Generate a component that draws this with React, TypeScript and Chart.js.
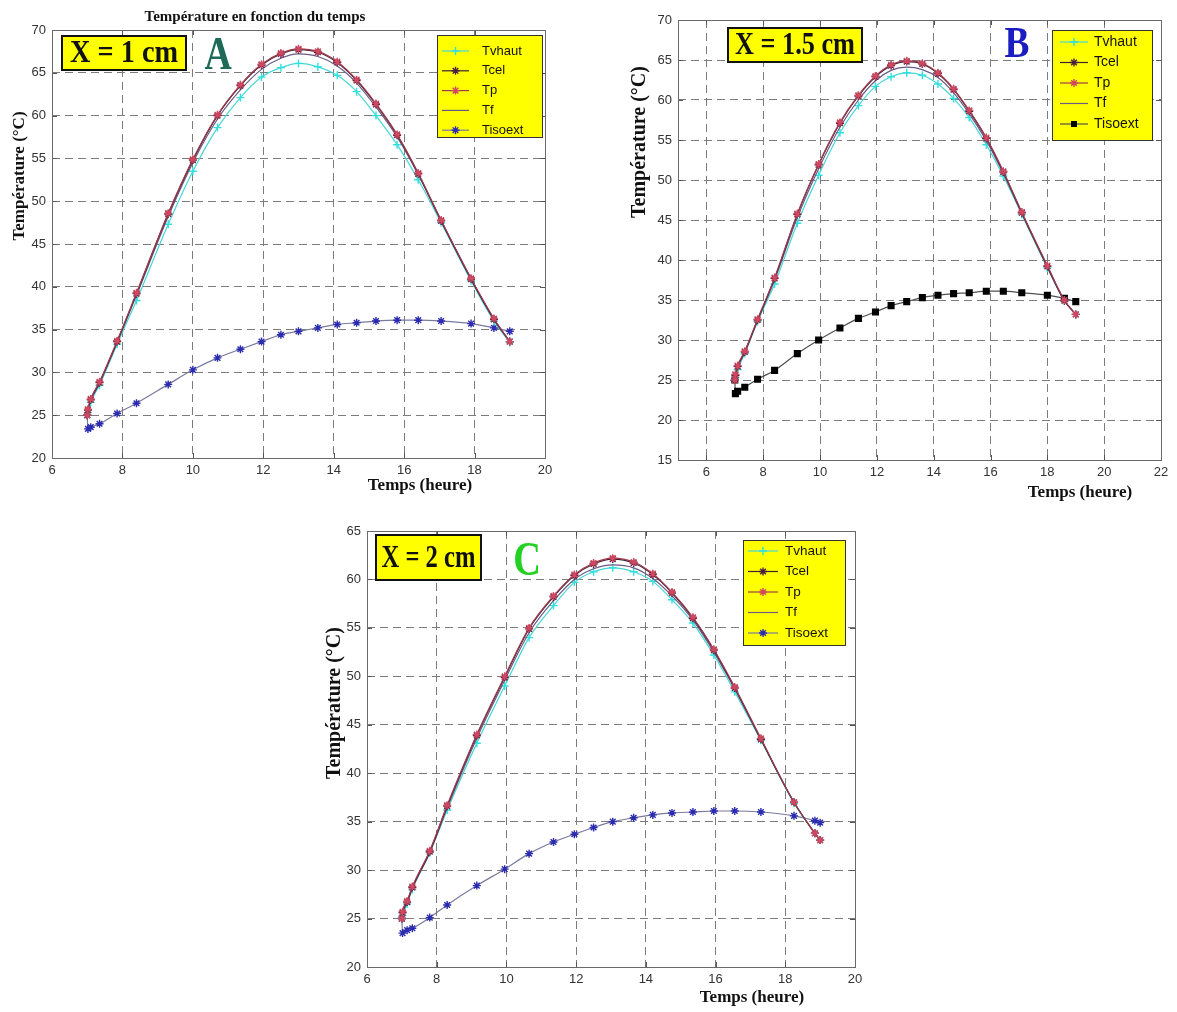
import React, { useEffect, useRef } from "react";
import { Chart, registerables } from "chart.js";
Chart.register(...registerables);

// ---------- DATA ----------
const seriesNames = ["Tvhaut", "Tcel", "Tp", "Tf", "Tisoext"];

// Panel A : X = 1 cm
const hoursA = [7.0, 7.02, 7.1, 7.35, 7.85, 8.4, 9.3, 10.0, 10.7, 11.35, 11.95, 12.5, 13.0, 13.55, 14.1, 14.65, 15.2, 15.8, 16.4, 17.05, 17.9, 18.55, 19.0];
const tvhautA = [25.0, 25.3, 26.5, 28.5, 33.3, 38.4, 47.3, 53.5, 58.6, 62.1, 64.5, 65.6, 66.1, 65.7, 64.7, 62.8, 60.0, 56.6, 52.5, 47.5, 40.7, 36.0, 33.5];
const tcelA = [25.0, 25.6, 26.8, 28.8, 33.6, 39.2, 48.5, 54.8, 60.0, 63.5, 65.9, 67.2, 67.7, 67.4, 66.2, 64.1, 61.3, 57.7, 53.2, 47.7, 40.9, 36.2, 33.6];
const tpA = [25.0, 25.7, 26.9, 28.9, 33.7, 39.3, 48.6, 54.9, 60.1, 63.6, 66.0, 67.3, 67.8, 67.5, 66.3, 64.2, 61.4, 57.8, 53.3, 47.8, 41.0, 36.3, 33.6];
const tfA = [25.0, 25.5, 26.7, 28.7, 33.5, 39.0, 48.2, 54.5, 59.6, 63.0, 65.4, 66.7, 67.2, 66.9, 65.8, 63.8, 61.0, 57.5, 53.1, 47.7, 40.9, 36.2, 33.6];
const tisoA = [25.0, 23.4, 23.6, 24.0, 25.2, 26.4, 28.6, 30.3, 31.7, 32.7, 33.6, 34.4, 34.8, 35.2, 35.6, 35.8, 36.0, 36.1, 36.1, 36.0, 35.7, 35.2, 34.8];

// Panel B : X = 1.5 cm
const hoursB = [7.0, 7.02, 7.1, 7.35, 7.8, 8.4, 9.2, 9.95, 10.7, 11.35, 11.95, 12.5, 13.05, 13.6, 14.15, 14.7, 15.25, 15.85, 16.45, 17.1, 18.0, 18.6, 19.0];
const tvhautB = [25.0, 25.3, 26.3, 28.3, 32.3, 37.0, 44.6, 50.6, 55.9, 59.3, 61.7, 62.9, 63.4, 63.1, 62.0, 60.2, 57.8, 54.4, 50.5, 45.7, 39.0, 34.9, 33.2];
const tcelB = [25.0, 25.6, 26.7, 28.5, 32.5, 37.7, 45.7, 51.9, 57.1, 60.5, 62.9, 64.3, 64.8, 64.5, 63.3, 61.3, 58.6, 55.2, 51.0, 45.9, 39.2, 34.9, 33.2];
const tpB = [25.0, 25.7, 26.8, 28.6, 32.6, 37.8, 45.8, 52.0, 57.2, 60.6, 63.0, 64.4, 64.9, 64.6, 63.4, 61.4, 58.7, 55.3, 51.1, 46.0, 39.3, 35.0, 33.2];
const tfB = [25.0, 25.5, 26.6, 28.4, 32.4, 37.5, 45.3, 51.4, 56.6, 60.0, 62.4, 63.7, 64.1, 63.8, 62.8, 60.9, 58.3, 54.9, 50.8, 45.8, 39.1, 34.9, 33.2];
const tisoB = [25.0, 23.3, 23.6, 24.1, 25.1, 26.2, 28.3, 30.0, 31.5, 32.7, 33.5, 34.3, 34.8, 35.3, 35.6, 35.8, 35.9, 36.1, 36.1, 35.9, 35.6, 35.2, 34.8];

// Panel C : X = 2 cm
const hoursC = [7.0, 7.02, 7.15, 7.3, 7.8, 8.3, 9.15, 9.95, 10.65, 11.35, 11.95, 12.5, 13.05, 13.65, 14.2, 14.75, 15.35, 15.95, 16.55, 17.3, 18.25, 18.85, 19.0];
const tvhautC = [25.0, 25.3, 26.5, 28.0, 31.8, 36.2, 43.1, 49.0, 54.0, 57.3, 59.7, 60.8, 61.2, 60.8, 59.8, 57.9, 55.5, 52.2, 48.4, 43.4, 36.9, 33.8, 33.1];
const tcelC = [25.0, 25.6, 26.7, 28.2, 31.9, 36.6, 43.9, 49.9, 54.9, 58.2, 60.4, 61.6, 62.1, 61.7, 60.5, 58.6, 56.0, 52.7, 48.8, 43.5, 37.0, 33.8, 33.1];
const tpC = [25.0, 25.7, 26.8, 28.3, 32.0, 36.7, 44.0, 50.0, 55.0, 58.3, 60.5, 61.7, 62.2, 61.8, 60.6, 58.7, 56.1, 52.8, 48.9, 43.6, 37.0, 33.8, 33.1];
const tfC = [25.0, 25.5, 26.6, 28.1, 31.8, 36.4, 43.6, 49.6, 54.5, 57.8, 60.0, 61.1, 61.5, 61.2, 60.1, 58.3, 55.8, 52.5, 48.7, 43.5, 37.0, 33.8, 33.1];
const tisoC = [25.0, 23.5, 23.8, 24.0, 25.1, 26.4, 28.4, 30.1, 31.7, 32.9, 33.7, 34.4, 35.0, 35.4, 35.7, 35.9, 36.0, 36.1, 36.1, 36.0, 35.6, 35.1, 34.9];

// Tick labels
const xTicksA = [6, 8, 10, 12, 14, 16, 18, 20];
const yTicksA = [20, 25, 30, 35, 40, 45, 50, 55, 60, 65, 70];
const xTicksB = [6, 8, 10, 12, 14, 16, 18, 20, 22];
const yTicksB = [15, 20, 25, 30, 35, 40, 45, 50, 55, 60, 65, 70];
const xTicksC = [6, 8, 10, 12, 14, 16, 18, 20];
const yTicksC = [20, 25, 30, 35, 40, 45, 50, 55, 60, 65];

// Texts
const mainTitle = "Température en fonction du temps";
const xAxisTitle = "Temps (heure)";
const yAxisTitle = "Température (°C)";
const tagA = "X = 1 cm";
const tagB = "X = 1.5 cm";
const tagC = "X = 2 cm";

// ---------- STYLES ----------
const lineColors = ["#45d6d6", "#3b2236", "#a33a4c", "#6b5a86", "#7a7a9e"];
const markerColors = ["#2fe0e0", "#4b1f3f", "#d04860", "#6b5a86", "#2b2bb0"];
const markerStyles: (string | false)[] = ["cross", "star", "star", false, "star"];
const drawOrder = [3, 1, 0, 2, 4];

type Cfg = any;

const SERIF = '"Liberation Serif", "Times New Roman", serif';
const SANS = '"Liberation Sans", Arial, sans-serif';

const panels: Cfg[] = [
  {
    key: "A", left: 0, top: 0, width: 560, height: 500,
    pad: { left: 0, top: 30, right: 15, bottom: 0 }, yW: 52, xH: 42,
    xMin: 6, xMax: 20, yMin: 20, yMax: 70, xTicks: xTicksA, yTicks: yTicksA,
    hours: hoursA, series: [tvhautA, tcelA, tpA, tfA, tisoA],
    iso: { line: "#7a7a9e", marker: "#2b2bb0", style: "star" },
    title: { text: mainTitle, x: 255, y: 17, size: 15 },
    xTitle: { x: 420, y: 486, size: 17 },
    yTitle: { x: 20, y: 176, size: 17 },
    tag: { text: tagA, x: 62, y: 36, w: 124, h: 34, size: 31, fit: 108 },
    letter: { text: "A", x: 218, y: 69, size: 46, color: "#1d6a58", sx: 0.82 },
    legend: { x: 437, y: 35, w: 105, h: 102, row0: 16, gap: 19.8, l0: 5, l1: 32, tx: 45, size: 13 },
  },
  {
    key: "B", left: 600, top: 0, width: 577, height: 515,
    pad: { left: 0, top: 20, right: 16, bottom: 0 }, yW: 78, xH: 55,
    xMin: 5, xMax: 22, yMin: 15, yMax: 70, xTicks: xTicksB, yTicks: yTicksB,
    hours: hoursB, series: [tvhautB, tcelB, tpB, tfB, tisoB],
    iso: { line: "#505050", marker: "#000000", style: "rect" },
    xTitle: { x: 480, y: 493, size: 17 },
    yTitle: { x: 40, y: 142, size: 20 },
    tag: { text: tagB, x: 128, y: 28, w: 134, h: 34, size: 31, fit: 120 },
    letter: { text: "B", x: 417, y: 57, size: 44, color: "#1a1ec0", sx: 0.85 },
    legend: { x: 452, y: 30, w: 100, h: 110, row0: 12, gap: 20.5, l0: 8, l1: 36, tx: 42, size: 14 },
  },
  {
    key: "C", left: 300, top: 515, width: 570, height: 497,
    pad: { left: 0, top: 16, right: 15, bottom: 0 }, yW: 67, xH: 45,
    xMin: 6, xMax: 20, yMin: 20, yMax: 65, xTicks: xTicksC, yTicks: yTicksC,
    hours: hoursC, series: [tvhautC, tcelC, tpC, tfC, tisoC],
    iso: { line: "#7a7a9e", marker: "#2b2bb0", style: "star" },
    xTitle: { x: 452, y: 483, size: 17 },
    yTitle: { x: 35, y: 188, size: 20 },
    tag: { text: tagC, x: 76, y: 20, w: 105, h: 45, size: 31, fit: 94 },
    letter: { text: "C", x: 227, y: 60, size: 48, color: "#25d025", sx: 0.8 },
    legend: { x: 443, y: 25, w: 102, h: 105, row0: 11, gap: 20.5, l0: 5, l1: 35, tx: 42, size: 13.5 },
  },
];

function drawMarker(ctx: CanvasRenderingContext2D, style: string, x: number, y: number, r: number, color: string) {
  ctx.save();
  ctx.strokeStyle = color;
  ctx.fillStyle = color;
  ctx.lineWidth = 1.4;
  ctx.beginPath();
  if (style === "cross" || style === "star") {
    ctx.moveTo(x - r, y); ctx.lineTo(x + r, y);
    ctx.moveTo(x, y - r); ctx.lineTo(x, y + r);
  }
  if (style === "star") {
    const d = r * 0.707;
    ctx.moveTo(x - d, y - d); ctx.lineTo(x + d, y + d);
    ctx.moveTo(x - d, y + d); ctx.lineTo(x + d, y - d);
  }
  ctx.stroke();
  if (style === "rect") ctx.fillRect(x - 3, y - 3, 6, 6);
  ctx.restore();
}

function makeDecor(cfg: Cfg, lc: string[], mc: string[], ms: (string | false)[]) {
  return {
    id: "decor" + cfg.key,
    afterDraw(chart: any) {
      const ctx: CanvasRenderingContext2D = chart.ctx;
      const ca = chart.chartArea;
      const xs = chart.scales.x;
      const ys = chart.scales.y;
      ctx.save();
      // inward ticks
      ctx.strokeStyle = "#555";
      ctx.lineWidth = 1;
      ctx.beginPath();
      cfg.xTicks.forEach((v: number) => {
        const px = Math.round(xs.getPixelForValue(v)) + 0.5;
        ctx.moveTo(px, ca.bottom); ctx.lineTo(px, ca.bottom - 5);
        ctx.moveTo(px, ca.top); ctx.lineTo(px, ca.top + 5);
      });
      cfg.yTicks.forEach((v: number) => {
        const py = Math.round(ys.getPixelForValue(v)) + 0.5;
        ctx.moveTo(ca.left, py); ctx.lineTo(ca.left + 5, py);
        ctx.moveTo(ca.right, py); ctx.lineTo(ca.right - 5, py);
      });
      ctx.stroke();
      // box
      ctx.strokeStyle = "#6a6a6a";
      ctx.strokeRect(Math.round(ca.left) + 0.5, Math.round(ca.top) + 0.5, Math.round(ca.right - ca.left), Math.round(ca.bottom - ca.top));

      // tag box
      const t = cfg.tag;
      ctx.fillStyle = "#ffff00";
      ctx.fillRect(t.x, t.y, t.w, t.h);
      ctx.strokeStyle = "#111";
      ctx.lineWidth = 2;
      ctx.strokeRect(t.x, t.y, t.w, t.h);
      ctx.font = `bold ${t.size}px ${SERIF}`;
      const tw = ctx.measureText(t.text).width;
      const sx = Math.min(1, t.fit / tw);
      ctx.save();
      ctx.translate(t.x + t.w / 2, t.y + t.h / 2 + 1);
      ctx.scale(sx, 1);
      ctx.fillStyle = "#111";
      ctx.textAlign = "center";
      ctx.textBaseline = "middle";
      ctx.fillText(t.text, 0, 0);
      ctx.restore();

      // letter
      const L = cfg.letter;
      ctx.save();
      ctx.font = `bold ${L.size}px ${SERIF}`;
      ctx.translate(L.x, L.y);
      ctx.scale(L.sx, 1);
      ctx.fillStyle = L.color;
      ctx.textAlign = "center";
      ctx.textBaseline = "alphabetic";
      ctx.fillText(L.text, 0, 0);
      ctx.restore();

      // legend
      const g = cfg.legend;
      ctx.fillStyle = "#ffff00";
      ctx.fillRect(g.x, g.y, g.w, g.h);
      ctx.strokeStyle = "#333";
      ctx.lineWidth = 1;
      ctx.strokeRect(g.x + 0.5, g.y + 0.5, g.w, g.h);
      ctx.font = `${g.size}px ${SANS}`;
      ctx.textAlign = "left";
      ctx.textBaseline = "middle";
      seriesNames.forEach((name, i) => {
        const y = g.y + g.row0 + i * g.gap;
        ctx.strokeStyle = lc[i];
        ctx.lineWidth = 1.2;
        ctx.beginPath();
        ctx.moveTo(g.x + g.l0, y);
        ctx.lineTo(g.x + g.l1, y);
        ctx.stroke();
        if (ms[i]) drawMarker(ctx, ms[i] as string, g.x + (g.l0 + g.l1) / 2, y, 4, mc[i]);
        ctx.fillStyle = "#111";
        ctx.fillText(name, g.x + g.tx, y);
      });

      // titles
      ctx.fillStyle = "#111";
      ctx.textAlign = "center";
      ctx.textBaseline = "middle";
      if (cfg.title) {
        ctx.font = `bold ${cfg.title.size}px ${SERIF}`;
        ctx.fillText(cfg.title.text, cfg.title.x, cfg.title.y);
      }
      ctx.font = `bold ${cfg.xTitle.size}px ${SERIF}`;
      ctx.fillText(xAxisTitle, cfg.xTitle.x, cfg.xTitle.y);
      ctx.save();
      ctx.translate(cfg.yTitle.x, cfg.yTitle.y);
      ctx.rotate(-Math.PI / 2);
      ctx.font = `bold ${cfg.yTitle.size}px ${SERIF}`;
      ctx.fillText(yAxisTitle, 0, 0);
      ctx.restore();
      ctx.restore();
    },
  };
}

function Panel({ cfg }: { cfg: Cfg }) {
  const ref = useRef<HTMLCanvasElement>(null);
  useEffect(() => {
    const lc = lineColors.slice();
    const mc = markerColors.slice();
    const ms = markerStyles.slice();
    lc[4] = cfg.iso.line;
    mc[4] = cfg.iso.marker;
    ms[4] = cfg.iso.style;
    const tickFont = { family: SANS, size: 13 };
    const chart = new Chart(ref.current as HTMLCanvasElement, {
      type: "scatter",
      data: {
        datasets: cfg.series.map((vals: number[], i: number) => ({
          label: seriesNames[i],
          data: cfg.hours.map((h: number, k: number) => ({ x: h, y: vals[k] })),
          showLine: true,
          borderColor: lc[i],
          backgroundColor: mc[i],
          borderWidth: 1.2,
          pointStyle: ms[i] || "circle",
          pointRadius: ms[i] ? 4 : 0,
          pointBorderColor: mc[i],
          pointBackgroundColor: mc[i],
          pointBorderWidth: 1.4,
          cubicInterpolationMode: "monotone",
          order: drawOrder[i],
        })),
      },
      options: {
        animation: false,
        responsive: false,
        events: [],
        layout: { padding: cfg.pad },
        plugins: { legend: { display: false }, tooltip: { enabled: false }, title: { display: false } },
        scales: {
          x: {
            type: "linear",
            min: cfg.xMin,
            max: cfg.xMax,
            afterBuildTicks: (s: any) => { s.ticks = cfg.xTicks.map((v: number) => ({ value: v })); },
            afterFit: (s: any) => { s.height = cfg.xH; },
            grid: { color: "#7c7c7c", lineWidth: 1, drawTicks: false },
            border: { display: false, dash: [8, 5] },
            ticks: { font: tickFont, color: "#333", padding: 5, maxRotation: 0, autoSkip: false },
          },
          y: {
            type: "linear",
            min: cfg.yMin,
            max: cfg.yMax,
            afterBuildTicks: (s: any) => { s.ticks = cfg.yTicks.map((v: number) => ({ value: v })); },
            afterFit: (s: any) => { s.width = cfg.yW; },
            grid: { color: "#7c7c7c", lineWidth: 1, drawTicks: false },
            border: { display: false, dash: [8, 5] },
            ticks: { font: tickFont, color: "#333", padding: 6, autoSkip: false },
          },
        },
      } as any,
      plugins: [makeDecor(cfg, lc, mc, ms)],
    } as any);
    return () => chart.destroy();
  }, []);
  return (
    <canvas
      ref={ref}
      width={cfg.width}
      height={cfg.height}
      style={{ position: "absolute", left: cfg.left, top: cfg.top, display: "block" }}
    />
  );
}

export default function App() {
  return (
    <div style={{ position: "absolute", left: 0, top: 0, width: 1177, height: 1012, background: "#fff", overflow: "hidden" }}>
      {panels.map((p) => (
        <Panel key={p.key} cfg={p} />
      ))}
    </div>
  );
}
